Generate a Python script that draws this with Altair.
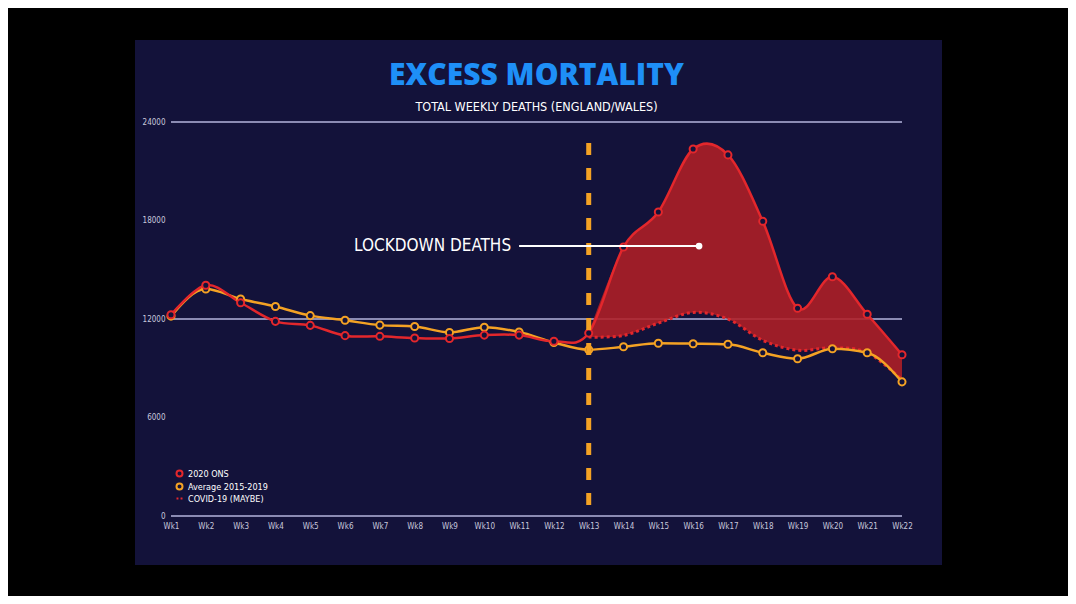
import altair as alt
import pandas as pd

# ---------------- data ----------------
weeks = list(range(1, 23))
ons_2020 = [12254, 14058, 12990, 11856, 11612, 10986, 10944, 10841, 10816, 11019, 11019,
            10645, 11141, 16387, 18516, 22351, 21997, 17953, 12657, 14573, 12288, 9824]
avg_2015_2019 = [12175, 13822, 13216, 12760, 12206, 11925, 11627, 11548, 11183, 11498, 11205,
                 10573, 10130, 10305, 10520, 10497, 10458, 9941, 9576, 10188, 9940, 8171]
covid_weeks = list(range(13, 23))
covid_maybe = [10900, 11000, 11750, 12400, 12000, 10700, 10100, 10250, 9950, 8300]
series_names = ["2020 ONS", "Average 2015-2019", "COVID-19 (MAYBE)"]
y_ticks = [0, 6000, 12000, 18000, 24000]
y_grid = [0, 12000, 24000]
lockdown_week = 13
annotation_text = "LOCKDOWN DEATHS"
annotation_from_week = 11.0
annotation_to_week = 16.17
annotation_level = 16440

# ---------------- styles ----------------
NAVY = "#13123a"
RED = "#e3272c"
FILL = "#b01f25"
ORANGE = "#f4a224"
GRID = "#b4b4dc"
LABEL = "#c8c8dc"
FONT = "'Liberation Sans Narrow', 'DejaVu Sans Condensed', 'Roboto Condensed', 'Liberation Sans', Arial, sans-serif"

wide = pd.DataFrame({"week": weeks, "ons": ons_2020, "avg": avg_2015_2019})
cov = pd.DataFrame({"week": covid_weeks, "covid": covid_maybe,
                    "ons": ons_2020[covid_weeks[0] - 1:]})
long = pd.DataFrame({
    "week": weeks + weeks,
    "deaths": avg_2015_2019 + ons_2020,
    "series": [series_names[1]] * len(weeks) + [series_names[0]] * len(weeks),
})
grid_df = pd.DataFrame({"level": y_grid})

x_scale = alt.Scale(domain=[weeks[0], weeks[-1]], nice=False, zero=False)
y_scale = alt.Scale(domain=[0, 24000], nice=False)
x_axis = alt.Axis(values=weeks, labelExpr="'Wk' + datum.value", grid=False, domain=False,
                  ticks=False, labelPadding=6, labelFontSize=8, labelColor=LABEL,
                  labelFont=FONT, title=None, zindex=1, labelFlush=False,
                  labelOverlap=False, labelBound=False)
y_axis = alt.Axis(values=y_ticks, format="d", grid=False, domain=False, ticks=False,
                  labelPadding=6, labelFontSize=8, labelColor=LABEL, labelFont=FONT,
                  title=None, zindex=1, labelFlush=False, labelOverlap=False)


def X(field):
    return alt.X(field, type="quantitative", scale=x_scale, axis=x_axis)


def Y(field):
    return alt.Y(field, type="quantitative", scale=y_scale, axis=y_axis)


panel = alt.Chart(pd.DataFrame({"p": [0]})).mark_rect(color=NAVY).encode(
    x=alt.value(-36), x2=alt.value(771), y=alt.value(-82), y2=alt.value(443)
)

grid = alt.Chart(grid_df).mark_rule(color=GRID, strokeWidth=1.5).encode(y=Y("level"))

area = alt.Chart(cov).mark_area(interpolate="cardinal", color=FILL, opacity=0.88).encode(
    x=X("week"), y=Y("ons"), y2="covid"
)

covid_line = alt.Chart(cov).mark_line(interpolate="cardinal", color=RED, strokeWidth=3,
                                      strokeDash=[3, 3]).encode(x=X("week"), y=Y("covid"))

avg_line = alt.Chart(wide).mark_line(interpolate="monotone", color=ORANGE,
                                     strokeWidth=2.5).encode(x=X("week"), y=Y("avg"))

ons_line = alt.Chart(wide).mark_line(interpolate="cardinal", color=RED,
                                     strokeWidth=2.5).encode(x=X("week"), y=Y("ons"))

legend = alt.Legend(title=None, orient="none", legendX=4, legendY=347,
                    labelFontSize=9, labelColor="white", labelFont=FONT,
                    symbolSize=36, symbolStrokeWidth=2, rowPadding=-2,
                    padding=0, labelOffset=4)

points = alt.Chart(long).mark_point(filled=False, fill=NAVY, size=50, strokeWidth=2,
                                    opacity=1).encode(
    x=X("week"),
    y=Y("deaths"),
    color=alt.Color("series:N", sort=series_names,
                    scale=alt.Scale(domain=series_names, range=[RED, ORANGE, RED]),
                    legend=legend),
    shape=alt.Shape("series:N", sort=series_names,
                    scale=alt.Scale(domain=series_names,
                                    range=["circle", "circle", "M-1,0L-0.35,0M0.35,0L1,0"]),
                    legend=legend),
)

lockdown = alt.Chart(pd.DataFrame({"week": [lockdown_week]})).mark_rule(
    color=ORANGE, strokeWidth=5, strokeDash=[12, 13]
).encode(x=X("week"), y=alt.value(21), y2=alt.value(388))

ann_line = alt.Chart(pd.DataFrame({"p": [0]})).mark_rule(color="white", strokeWidth=2).encode(
    x=alt.X(datum=annotation_from_week, type="quantitative", scale=x_scale, axis=x_axis),
    x2=alt.X2(datum=annotation_to_week),
    y=alt.Y(datum=annotation_level, type="quantitative", scale=y_scale, axis=y_axis),
)
ann_dot = alt.Chart(pd.DataFrame({"p": [0]})).mark_point(filled=True, color="white", size=45,
                                                        opacity=1).encode(
    x=alt.X(datum=annotation_to_week, type="quantitative", scale=x_scale, axis=x_axis),
    y=alt.Y(datum=annotation_level, type="quantitative", scale=y_scale, axis=y_axis),
)
ann_text = alt.Chart(pd.DataFrame({"p": [0]})).mark_text(
    align="right", baseline="middle", dx=-8, font=FONT, fontSize=17, color="white"
).encode(
    x=alt.X(datum=annotation_from_week, type="quantitative", scale=x_scale, axis=x_axis),
    y=alt.Y(datum=annotation_level, type="quantitative", scale=y_scale, axis=y_axis),
    text=alt.value(annotation_text),
)

chart = alt.layer(
    panel, grid, area, covid_line, avg_line, ons_line, points, lockdown,
    ann_line, ann_dot, ann_text
).properties(
    width=731,
    height=394,
    padding={"left": 163, "top": 114, "right": 166, "bottom": 80},
    autosize=alt.AutoSizeParams(type="none"),
    background="#000000",
    title=alt.Title(
        text="EXCESS MORTALITY",
        subtitle="TOTAL WEEKLY DEATHS (ENGLAND/WALES)",
        anchor="middle",
        font="'Open Sans', sans-serif",
        fontSize=30,
        fontWeight=800,
        color="#1e8ff7",
        subtitleFont=FONT,
        subtitleFontSize=12.5,
        subtitleColor="white",
        subtitlePadding=10,
        offset=10,
        dy=83,
    ),
).configure_view(stroke=None)

chart.save("out.html", embed_options={"renderer": "svg", "actions": False})
